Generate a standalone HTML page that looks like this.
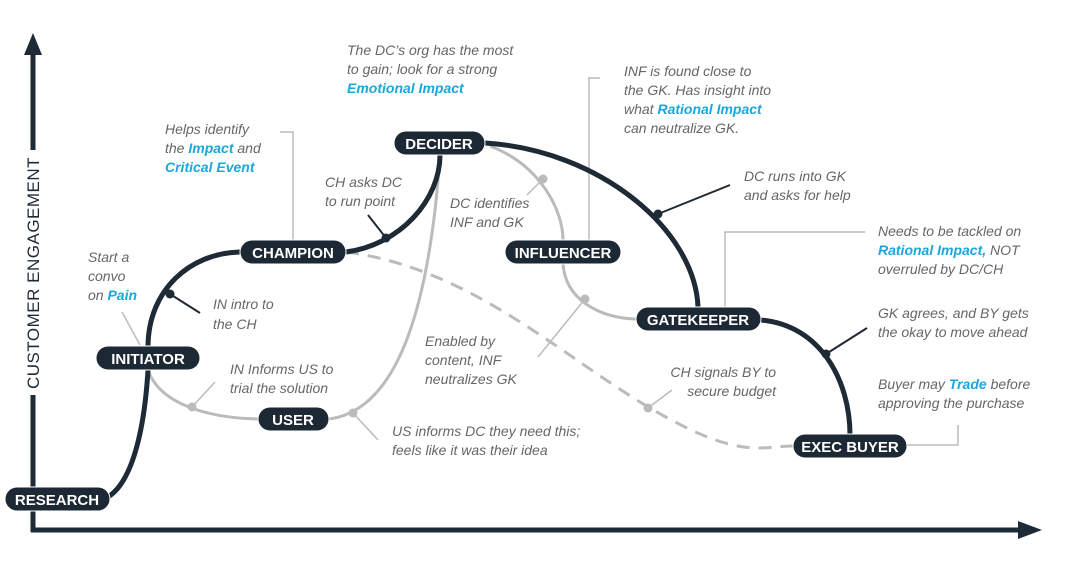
<!DOCTYPE html>
<html><head><meta charset="utf-8"><style>
body{margin:0;background:#fff}
svg{display:block}
.t{font-family:"Liberation Sans",sans-serif;font-style:italic;font-size:14px;fill:#666}
.b{fill:#1aa7dc;font-weight:bold}
.n{font-family:"Liberation Sans",sans-serif;font-weight:bold;font-size:15px;fill:#fff;text-anchor:middle}
</style></head><body>
<svg width="1065" height="561" viewBox="0 0 1065 561">
<g stroke="#1e2a35" stroke-width="5" fill="none">
<line x1="33" y1="48" x2="33" y2="150"/><line x1="33" y1="395" x2="33" y2="532"/>
<line x1="31" y1="530" x2="1020" y2="530"/>
</g>
<polygon points="33,33 24,55 42,55" fill="#1e2a35"/>
<polygon points="1042,530 1018,521 1018,539" fill="#1e2a35"/>
<text transform="translate(39,273) rotate(-90)" font-family="Liberation Sans,sans-serif" font-size="17" fill="#1e2a35" text-anchor="middle" letter-spacing="0.5">CUSTOMER  ENGAGEMENT</text>

<g stroke="#bbb" stroke-width="1.5" fill="none">
<path d="M122,312 L140,345"/>
<path d="M293,240 V132 H280"/>
<path d="M589,240 V78 H600"/>
<path d="M725,307 V232 H865"/>
<path d="M907,445 H958 V425"/>
<path d="M192,407 L215,382"/>
<path d="M353,413 L378,440"/>
<path d="M543,179 L527,195"/>
<path d="M585,299 L538,357"/>
<path d="M648,408 L672,390"/>
</g>
<g stroke="#bbb" stroke-width="3" fill="none">
<path d="M148,370 C160,405 210,418 258,419"/>
<path d="M329,419 C400,410 430,300 440,155"/>
<path d="M490,146 C540,165 563,210 563,240"/>
<path d="M563,263 C565,300 600,318 636,319"/>
<path d="M346,252 C470,268 560,355 650,408 S760,446 793,446" stroke-dasharray="13,9"/>
</g>
<g fill="#bbb"><circle cx="192" cy="407" r="4.5"/><circle cx="353" cy="413" r="4.5"/><circle cx="543" cy="179" r="4.5"/><circle cx="585" cy="299" r="4.5"/><circle cx="648" cy="408" r="4.5"/></g>
<g stroke="#1e2a35" stroke-width="5" fill="none">
<path d="M108,497 C135,480 145,420 148,370"/>
<path d="M148,347 C148,290 190,253 240,252"/>
<path d="M346,252 C400,245 440,200 440,155"/>
<path d="M485,143 C600,150 695,230 698,307"/>
<path d="M761,320 C820,325 850,380 850,435"/>
</g>
<g stroke="#1e2a35" stroke-width="2"><path d="M170,294 L200,313"/><path d="M386,238 L368,215"/><path d="M658,214 L730,185"/><path d="M826,354 L867,328"/></g>
<g fill="#1e2a35"><circle cx="170" cy="294" r="4.5"/><circle cx="386" cy="238" r="4.5"/><circle cx="658" cy="214" r="4.5"/><circle cx="826" cy="354" r="4.5"/></g>

<g fill="#1c2833" stroke="#fff" stroke-width="1">
<rect x="5" y="487" width="105" height="24" rx="12"/>
<rect x="96" y="346" width="104" height="24" rx="12"/>
<rect x="240" y="240" width="106" height="24" rx="12"/>
<rect x="258" y="407" width="71" height="24" rx="12"/>
<rect x="394" y="131" width="91" height="24" rx="12"/>
<rect x="505" y="240" width="116" height="24" rx="12"/>
<rect x="636" y="307" width="125" height="24" rx="12"/>
<rect x="793" y="434" width="114" height="24" rx="12"/>
</g>
<text class="n" x="57" y="505">RESEARCH</text>
<text class="n" x="148" y="364">INITIATOR</text>
<text class="n" x="293" y="258">CHAMPION</text>
<text class="n" x="293" y="425">USER</text>
<text class="n" x="439" y="149">DECIDER</text>
<text class="n" x="563" y="258">INFLUENCER</text>
<text class="n" x="698" y="325">GATEKEEPER</text>
<text class="n" x="850" y="452">EXEC BUYER</text>

<text class="t" x="347" y="55">The DC’s org has the most</text>
<text class="t" x="347" y="74">to gain; look for a strong</text>
<text class="t" x="347" y="93"><tspan class="b">Emotional Impact</tspan></text>
<text class="t" x="165" y="134">Helps identify</text>
<text class="t" x="165" y="153">the <tspan class="b">Impact</tspan> and</text>
<text class="t" x="165" y="172"><tspan class="b">Critical Event</tspan></text>
<text class="t" x="325" y="187">CH asks DC</text>
<text class="t" x="325" y="206">to run point</text>
<text class="t" x="450" y="208">DC identifies</text>
<text class="t" x="450" y="227">INF and GK</text>
<text class="t" x="88" y="262">Start a</text>
<text class="t" x="88" y="281">convo</text>
<text class="t" x="88" y="300">on <tspan class="b">Pain</tspan></text>
<text class="t" x="213" y="309">IN intro to</text>
<text class="t" x="213" y="329">the CH</text>
<text class="t" x="230" y="374">IN Informs US to</text>
<text class="t" x="230" y="393">trial the solution</text>
<text class="t" x="392" y="436">US informs DC they need this;</text>
<text class="t" x="392" y="455">feels like it was their idea</text>
<text class="t" x="425" y="346">Enabled by</text>
<text class="t" x="425" y="365">content, INF</text>
<text class="t" x="425" y="384">neutralizes GK</text>
<text class="t" x="624" y="76">INF is found close to</text>
<text class="t" x="624" y="95">the GK. Has insight into</text>
<text class="t" x="624" y="114">what <tspan class="b">Rational Impact</tspan></text>
<text class="t" x="624" y="133">can neutralize GK.</text>
<text class="t" x="744" y="181">DC runs into GK</text>
<text class="t" x="744" y="200">and asks for help</text>
<text class="t" x="878" y="236">Needs to be tackled on</text>
<text class="t" x="878" y="255"><tspan class="b">Rational Impact,</tspan> NOT</text>
<text class="t" x="878" y="274">overruled by DC/CH</text>
<text class="t" x="878" y="318">GK agrees, and BY gets</text>
<text class="t" x="878" y="337">the okay to move ahead</text>
<text class="t" x="776" y="377" text-anchor="end">CH signals BY to</text>
<text class="t" x="776" y="396" text-anchor="end">secure budget</text>
<text class="t" x="878" y="389">Buyer may <tspan class="b">Trade</tspan> before</text>
<text class="t" x="878" y="408">approving the purchase</text>
</svg>
</body></html>
